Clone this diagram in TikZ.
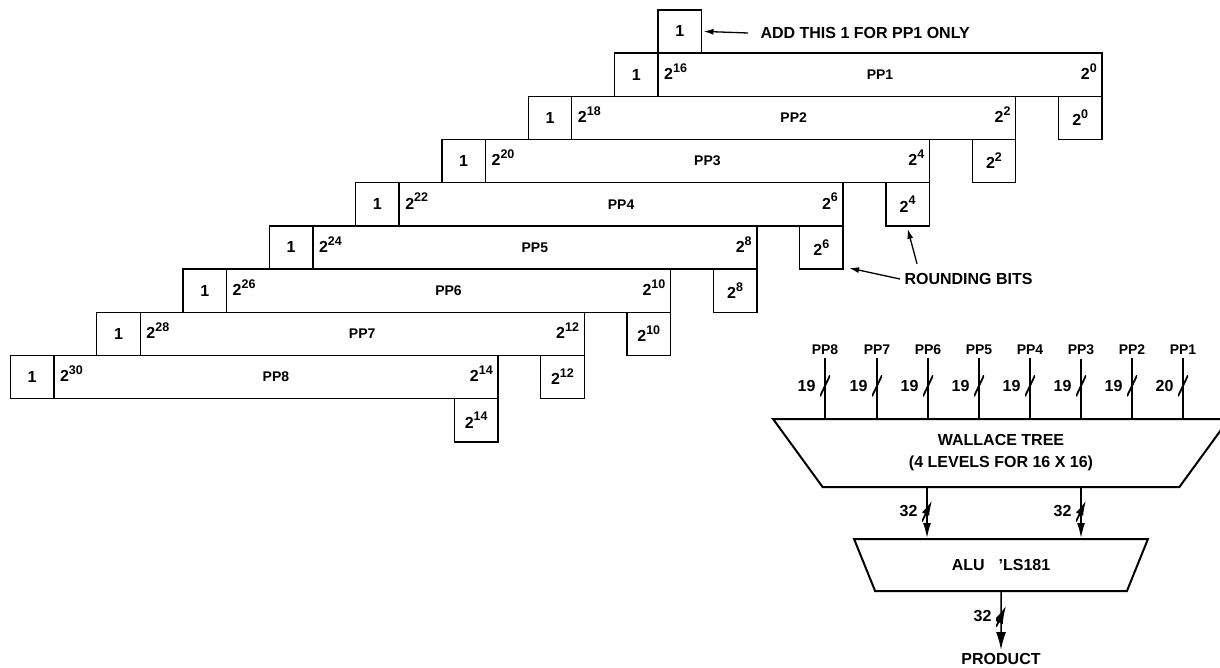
\documentclass[tikz,border=0pt]{standalone}
\usepackage{fontspec}
\setmainfont{Liberation Sans}
\usepackage{tikz}
\usetikzlibrary{shapes.geometric, arrows.meta, positioning, calc}
\newcommand{\pw}[1]{2\raisebox{0.45em}{\fontsize{12.5}{12.5}\selectfont#1}}

\begin{document}
\begin{tikzpicture}[
    x=1pt, y=-1pt,
    every node/.style={font=\bfseries\fontsize{16}{22}\selectfont},
    ppbox/.style={rectangle, draw, line width=1.4pt, minimum width=444pt, minimum height=43.2pt, inner sep=0pt, outer sep=0pt, font=\bfseries\fontsize{14}{16}\selectfont},
    onebox/.style={rectangle, draw, line width=1.4pt, minimum width=43.5pt, minimum height=43.2pt, inner sep=0pt, outer sep=0pt},
    bitbox/.style={onebox},
    expl/.style={anchor=west, inner sep=6pt, yshift=3pt},
    expr/.style={anchor=east, inner sep=5pt, yshift=3pt},
    inlab/.style={font=\bfseries\fontsize{14}{16}\selectfont},
    wallace/.style={trapezium, draw, line width=2pt, shape border rotate=180, trapezium left angle=55, trapezium right angle=55, trapezium stretches=true, minimum width=457pt, minimum height=68pt, inner sep=0pt, align=center},
    alu/.style={trapezium, draw, line width=2pt, shape border rotate=180, trapezium left angle=54, trapezium right angle=54, trapezium stretches=true, minimum width=294pt, minimum height=52pt, inner sep=0pt},
    slash/.style={minimum width=10pt, minimum height=21pt, inner sep=0pt, path picture={\draw[line width=1.8pt] (path picture bounding box.south west) -- (path picture bounding box.north east);}},
    numl/.style={inner sep=3pt},
    bus/.style={line width=1.5pt},
    busarrow/.style={line width=1.5pt, -{Latex[length=15pt, width=8pt]}},
    outarrow/.style={line width=1.5pt, -{Latex[length=18pt, width=10pt]}},
    ptr/.style={line width=1.3pt, -{Latex[length=10pt, width=6pt]}}
]
\useasboundingbox (0,0) rectangle (1220,667);
% Partial products
\node[ppbox, label={[expl]west:\pw{16}}, label={[expr]east:\pw{0}}] (pp1) at (880,74.6) {PP1};
\node[ppbox, below=0pt of pp1, xshift=-86.3pt, label={[expl]west:\pw{18}}, label={[expr]east:\pw{2}}] (pp2) {PP2};
\node[ppbox, below=0pt of pp2, xshift=-86.3pt, label={[expl]west:\pw{20}}, label={[expr]east:\pw{4}}] (pp3) {PP3};
\node[ppbox, below=0pt of pp3, xshift=-86.3pt, label={[expl]west:\pw{22}}, label={[expr]east:\pw{6}}] (pp4) {PP4};
\node[ppbox, below=0pt of pp4, xshift=-86.3pt, label={[expl]west:\pw{24}}, label={[expr]east:\pw{8}}] (pp5) {PP5};
\node[ppbox, below=0pt of pp5, xshift=-86.3pt, label={[expl]west:\pw{26}}, label={[expr]east:\pw{10}}] (pp6) {PP6};
\node[ppbox, below=0pt of pp6, xshift=-86.3pt, label={[expl]west:\pw{28}}, label={[expr]east:\pw{12}}] (pp7) {PP7};
\node[ppbox, below=0pt of pp7, xshift=-86.3pt, label={[expl]west:\pw{30}}, label={[expr]east:\pw{14}}] (pp8) {PP8};
% Leading ones
\node[onebox, anchor=south west] (top1) at (pp1.north west) {1};
\node[onebox, left=0pt of pp1] (one1) {1};
\node[onebox, left=0pt of pp2] (one2) {1};
\node[onebox, left=0pt of pp3] (one3) {1};
\node[onebox, left=0pt of pp4] (one4) {1};
\node[onebox, left=0pt of pp5] (one5) {1};
\node[onebox, left=0pt of pp6] (one6) {1};
\node[onebox, left=0pt of pp7] (one7) {1};
\node[onebox, left=0pt of pp8] (one8) {1};
% Rounding bits
\node[bitbox, anchor=north east] (r0) at (pp1.south east) {\pw{0}};
\node[bitbox, anchor=north east] (r2) at (pp2.south east) {\pw{2}};
\node[bitbox, anchor=north east] (r4) at (pp3.south east) {\pw{4}};
\node[bitbox, anchor=north east] (r6) at (pp4.south east) {\pw{6}};
\node[bitbox, anchor=north east] (r8) at (pp5.south east) {\pw{8}};
\node[bitbox, anchor=north east] (r10) at (pp6.south east) {\pw{10}};
\node[bitbox, anchor=north east] (r12) at (pp7.south east) {\pw{12}};
\node[bitbox, anchor=north east] (r14) at (pp8.south east) {\pw{14}};
% Notes
\node[anchor=west] (addtxt) at (757,33) {ADD THIS 1 FOR PP1 ONLY};
\draw[ptr] ([xshift=-9pt]addtxt.west) -- ([xshift=2pt]top1.east);
\node[anchor=west] (rbits) at (901,279) {ROUNDING BITS};
\draw[ptr] ([xshift=-1pt]rbits.west) -- ([shift={(6pt,1pt)}]r6.south east);
\draw[ptr] ([shift={(16pt,6pt)}]rbits.north west) -- ([yshift=-3pt]r4.south);
% Wallace tree and adder
\node[wallace] (wt) at (1001,453) {WALLACE TREE\\(4 LEVELS FOR 16 X 16)};
\node[alu, below=50pt of wt] (alu) {ALU\hspace{14pt}’LS181};
\node[below=58pt of alu] (prod) {PRODUCT};
% Inputs
\node[inlab] (in8) at (825,350) {PP8};
\node[inlab] (in7) at (877,350) {PP7};
\node[inlab] (in6) at (928,350) {PP6};
\node[inlab] (in5) at (979,350) {PP5};
\node[inlab] (in4) at (1030,350) {PP4};
\node[inlab] (in3) at (1081,350) {PP3};
\node[inlab] (in2) at (1132,350) {PP2};
\node[inlab] (in1) at (1183,350) {PP1};
\draw[bus] (in8) -- node[pos=.46, slash, label={[numl]left:19}] {} (in8 |- wt.north);
\draw[bus] (in7) -- node[pos=.46, slash, label={[numl]left:19}] {} (in7 |- wt.north);
\draw[bus] (in6) -- node[pos=.46, slash, label={[numl]left:19}] {} (in6 |- wt.north);
\draw[bus] (in5) -- node[pos=.46, slash, label={[numl]left:19}] {} (in5 |- wt.north);
\draw[bus] (in4) -- node[pos=.46, slash, label={[numl]left:19}] {} (in4 |- wt.north);
\draw[bus] (in3) -- node[pos=.46, slash, label={[numl]left:19}] {} (in3 |- wt.north);
\draw[bus] (in2) -- node[pos=.46, slash, label={[numl]left:19}] {} (in2 |- wt.north);
\draw[bus] (in1) -- node[pos=.46, slash, label={[numl]left:20}] {} (in1 |- wt.north);
% Outputs
\coordinate (o1) at ($(wt.south)+(-74,0)$);
\coordinate (o2) at ($(wt.south)+(80,0)$);
\draw[busarrow] (o1) -- node[pos=.46, slash, label={[numl]left:32}] {} (o1 |- alu.north);
\draw[busarrow] (o2) -- node[pos=.46, slash, label={[numl]left:32}] {} (o2 |- alu.north);
\draw[outarrow] (alu) -- node[pos=.42, slash, label={[numl]left:32}] {} (prod);
\end{tikzpicture}
\end{document}
